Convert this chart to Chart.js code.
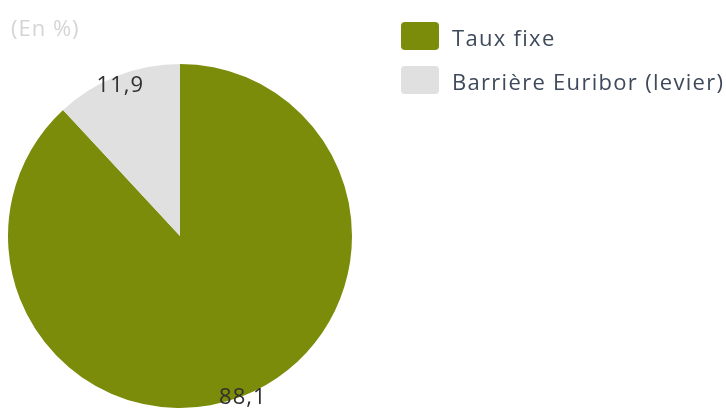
<!DOCTYPE html>
<html>
<head>
<meta charset="utf-8">
<script src="https://cdn.jsdelivr.net/npm/chart.js@4"></script>
<style>
  html, body { margin: 0; padding: 0; background: #fff; }
  #wrap { width: 726px; height: 408px; position: relative; }
</style>
</head>
<body>
<div id="wrap"><canvas id="myChart"></canvas></div>
<script>
const categories = ['Taux fixe', 'Barrière Euribor (levier)'];
const shares = [88.1, 11.9];
const valueLabels = ['88,1', '11,9'];
const colors = ['#7b8c0b', '#e0e0e0'];

const FONT = '"Open Sans", sans-serif';

// unit note, slice values and the legend on the right
const decorations = {
  id: 'decorations',
  afterDraw(chart) {
    const ctx = chart.ctx;
    ctx.save();

    ctx.font = '22px ' + FONT;
    ctx.letterSpacing = '1px';
    ctx.fillStyle = '#d5d5d5';
    ctx.textAlign = 'left';
    ctx.textBaseline = 'alphabetic';
    ctx.fillText('(En %)', 11, 36);

    const arcs = chart.getDatasetMeta(0).data;
    const radiusFactor = [1.0, 0.95];
    ctx.fillStyle = '#2f2f2f';
    ctx.textAlign = 'center';
    arcs.forEach((arc, i) => {
      const p = arc.getProps(['x', 'y', 'startAngle', 'endAngle', 'outerRadius'], true);
      const mid = (p.startAngle + p.endAngle) / 2;
      const r = p.outerRadius * radiusFactor[i];
      ctx.fillText(valueLabels[i], p.x + Math.cos(mid) * r, p.y + Math.sin(mid) * r + 8);
    });

    ctx.textAlign = 'left';
    ctx.letterSpacing = '1.3px';
    categories.forEach((name, i) => {
      const y = 36 + i * 44;
      ctx.fillStyle = colors[i];
      ctx.beginPath();
      ctx.roundRect(401, y - 14, 38, 28, 4);
      ctx.fill();
      ctx.fillStyle = '#3e4a5b';
      ctx.fillText(name, 452, y + 10);
    });

    ctx.restore();
  }
};

const ctx = document.getElementById('myChart').getContext('2d');
const myChart = new Chart(ctx, {
  type: 'pie',
  data: {
    labels: categories,
    datasets: [
      {
        data: shares,
        backgroundColor: colors,
        borderWidth: 0,
      },
    ],
  },
  options: {
    responsive: true,
    maintainAspectRatio: false,
    animation: false,
    layout: {
      padding: { top: 64, left: 8, right: 374, bottom: 0 },
    },
    plugins: {
      legend: { display: false },
      tooltip: { enabled: false },
    },
  },
  plugins: [decorations],
});
</script>
</body>
</html>
